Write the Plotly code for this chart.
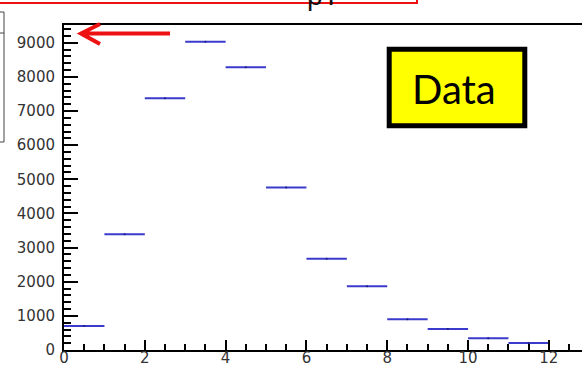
import plotly.graph_objects as go

# ---- data ----
bin_low = [0, 1, 2, 3, 4, 5, 6, 7, 8, 9, 10, 11]
bin_high = [1, 2, 3, 4, 5, 6, 7, 8, 9, 10, 11, 12]
counts = [700, 3390, 7375, 9030, 8280, 4760, 2670, 1870, 900, 615, 345, 205]
x_ticks = [0, 2, 4, 6, 8, 10, 12]
y_ticks = [0, 1000, 2000, 3000, 4000, 5000, 6000, 7000, 8000, 9000]
box_label = "Data"
title_text = "pT"

W, H = 582, 365
L, R, T, B = 64, 0, 25, 15
PW, PH = W - L - R, H - T - B


def px(x):
    return (x - L) / PW


def py(y):
    return (H - B - y) / PH


centers = [(a + b) / 2 for a, b in zip(bin_low, bin_high)]
halfw = [(b - a) / 2 for a, b in zip(bin_low, bin_high)]

blue = "#3a3acc"
fig = go.Figure()
fig.add_trace(go.Scatter(
    x=centers, y=counts, mode="markers",
    marker=dict(size=2, color="#1a1a80"),
    error_x=dict(type="data", array=halfw, symmetric=True, width=0,
                 thickness=2, color=blue),
    showlegend=False, hoverinfo="skip",
))

tickfont = dict(family="DejaVu Sans", size=15, color="#333333")

fig.update_layout(
    width=W, height=H,
    margin=dict(l=L, r=R, t=T, b=B, pad=0, autoexpand=False),
    paper_bgcolor="white", plot_bgcolor="white",
    xaxis=dict(range=[0, 12.82], tickvals=x_ticks, ticks="inside", ticklen=10,
               tickwidth=2, tickcolor="black", showline=True, linewidth=2,
               linecolor="black", mirror=True, showgrid=False, zeroline=False,
               tickfont=tickfont, automargin=False, ticklabelstandoff=-7,
               minor=dict(dtick=0.5, ticks="inside", ticklen=6, tickwidth=2,
                          tickcolor="black", showgrid=False)),
    yaxis=dict(range=[0, 9520], tickvals=y_ticks, ticks="inside", ticklen=14,
               tickwidth=2, tickcolor="black", showline=True, linewidth=2,
               linecolor="black", mirror=False, showgrid=False, zeroline=False,
               tickfont=tickfont, ticklabelstandoff=4, automargin=False,
               minor=dict(dtick=200, ticks="inside", ticklen=7, tickwidth=2,
                          tickcolor="black", showgrid=False)),
)

shapes = []
# red frame at top (partly outside the picture)
shapes.append(dict(type="rect", xref="paper", yref="paper",
                   x0=px(-20), x1=px(417), y0=py(3), y1=py(-30),
                   line=dict(color="#ee1111", width=2)))
# left partial box
shapes.append(dict(type="rect", xref="paper", yref="paper",
                   x0=px(-30), x1=px(4), y0=py(142), y1=py(12),
                   line=dict(color="#444444", width=1)))
shapes.append(dict(type="line", xref="paper", yref="paper",
                   x0=px(-30), x1=px(4), y0=py(33), y1=py(33),
                   line=dict(color="#444444", width=1)))
# yellow "Data" box
shapes.append(dict(type="rect", xref="paper", yref="paper",
                   x0=px(389.2), x1=px(524.8), y0=py(125.8), y1=py(49.2),
                   fillcolor="#ffff00", line=dict(color="black", width=5),
                   layer="above"))
# red arrow
path = (f"M {px(100)},{py(24)} L {px(81)},{py(33.5)} L {px(100)},{py(44)} "
        f"M {px(82)},{py(33.5)} L {px(170)},{py(33.5)}")
shapes.append(dict(type="path", xref="paper", yref="paper", path=path,
                   line=dict(color="#ee1111", width=4)))
fig.update_layout(shapes=shapes)

fig.add_annotation(x=px(454), y=py(89), xref="paper", yref="paper",
                   text=box_label, showarrow=False, xanchor="center",
                   yanchor="middle",
                   font=dict(family="Lato", size=40, color="black"))
fig.add_annotation(x=px(305), y=py(13), xref="paper", yref="paper",
                   text=title_text, showarrow=False, xanchor="left",
                   yanchor="bottom",
                   font=dict(family="Liberation Sans", size=28, color="#111111"))

fig.write_html("out.html")
